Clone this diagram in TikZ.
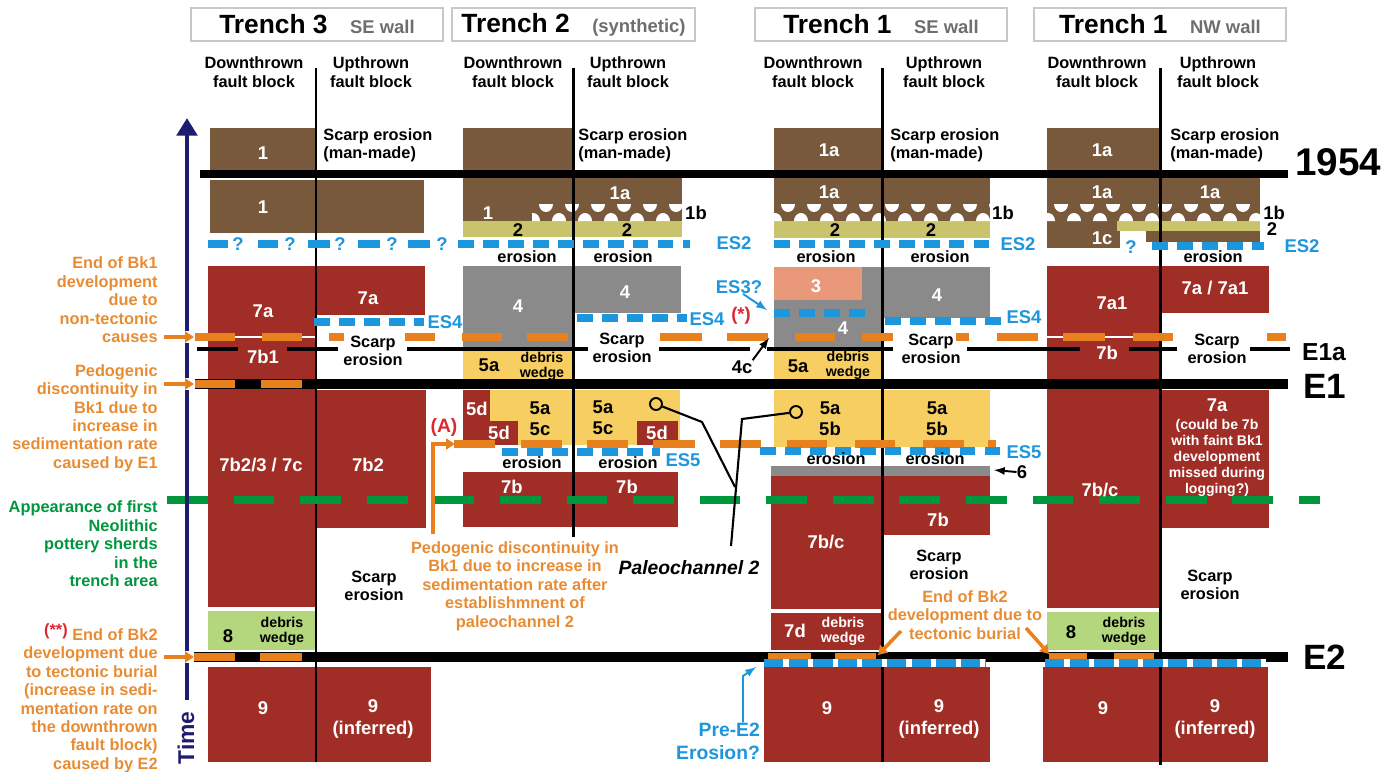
\documentclass[tikz,border=0pt]{standalone}
\usepackage{fontspec}
\setmainfont{Liberation Sans}
\usepackage{tikz}
\usetikzlibrary{arrows,arrows.meta,positioning,calc}

\definecolor{soilbrown}{RGB}{121,89,60}
\definecolor{soilred}{RGB}{160,46,38}
\definecolor{soilgray}{RGB}{138,138,138}
\definecolor{soilyellow}{RGB}{247,206,98}
\definecolor{soilolive}{RGB}{201,196,108}
\definecolor{soilgreen}{RGB}{180,214,124}
\definecolor{soilsalmon}{RGB}{233,152,122}
\definecolor{bkorange}{RGB}{232,128,30}
\definecolor{txtorange}{RGB}{232,140,52}
\definecolor{esblue}{RGB}{28,150,220}
\definecolor{neogreen}{RGB}{0,150,62}
\definecolor{timenavy}{RGB}{30,28,110}
\definecolor{notered}{RGB}{220,40,50}
\definecolor{hdline}{RGB}{200,200,200}
\definecolor{hdgray}{RGB}{110,110,110}

\newcommand{\trhead}[2]{{\fontsize{15}{17}\selectfont #1}\hspace{0.45cm}{\fontsize{10.5}{12}\selectfont\color{hdgray}#2}}

\begin{document}
\begin{tikzpicture}[x=0.02cm, y=-0.02cm,
    lbl/.style={font=\fontsize{9.3}{10.5}\selectfont\bfseries, align=center, inner sep=0pt},
    num/.style={font=\fontsize{10.5}{12}\selectfont\bfseries, text=white, align=center, inner sep=0pt},
    numk/.style={num, text=black},
    wedge/.style={font=\fontsize{8.1}{8.7}\selectfont\bfseries, align=center, inner sep=0pt},
    olbl/.style={lbl, text=txtorange},
    eslbl/.style={num, text=esblue},
    evlbl/.style={font=\fontsize{20}{22}\selectfont\bfseries, inner sep=0pt},
    hdr/.style={draw=hdline, line width=0.7pt, fill=white, font=\bfseries, minimum height=0.66cm, inner sep=0pt},
    evline/.style={line width=5.7pt},
    fault/.style={line width=1.7pt},
    bkdash/.style={draw=bkorange, line width=4pt},
    esdash/.style={draw=esblue, line width=4.2pt, dash pattern=on 9pt off 5.2pt},
    esseg/.style={draw=esblue, line width=4.2pt},
    neodash/.style={draw=neogreen, line width=4.5pt, dash pattern=on 23.2pt off 14.7pt},
    orarr/.style={draw=bkorange, line width=1.8pt, -{Triangle[length=5pt,width=6pt]}, preaction={draw=white, line width=7pt, arrows=-}},
    oline/.style={draw=bkorange, line width=1.8pt, -{Triangle[length=5pt,width=6pt]}},
    blkarr/.style={draw=black, line width=1.1pt, -latex},
    bluearr/.style={draw=esblue, line width=1.1pt, -latex},
    pline/.style={draw=black, line width=1.2pt},
    pcirc/.style={circle, draw, line width=1.1pt, minimum size=0.24cm, inner sep=0pt},
    timeax/.style={draw=timenavy, line width=2.8pt, -{Triangle[length=10pt,width=11.5pt]}}
]
\useasboundingbox (0,0) rectangle (1389,771);

% Trench headers
\node[hdr, minimum width=5.04cm] (hd3) at (317,24.5) {\trhead{Trench 3}{SE wall}};
\node[hdr, minimum width=4.86cm] (hd2) at (573.5,24.5) {\trhead{Trench 2}{(synthetic)}};
\node[hdr, minimum width=5.04cm] (hd1se) at (881,24.5) {\trhead{Trench 1}{SE wall}};
\node[hdr, minimum width=5.04cm] (hd1nw) at (1160,24.5) {\trhead{Trench 1}{NW wall}};

% Fault block headings
\foreach \x/\nm in {254/t3, 513/t2, 813/se, 1097/nw}
    \node[lbl] (down\nm) at (\x,72) {Downthrown\\fault block};
\foreach \x/\nm in {371/t3, 628/t2, 944/se, 1218/nw}
    \node[lbl] (up\nm) at (\x,72) {Upthrown\\fault block};

% Units, Trench 3
\fill[soilbrown] (210,128) rectangle (316,170);
\fill[soilbrown] (210,180) rectangle (424,233);
\fill[soilred] (208,266) rectangle (316,607);
\fill[soilgreen] (208,611) rectangle (316,650);
\fill[soilred] (208,667) rectangle (316,762);
\fill[soilred] (316,266) rectangle (425,315);
\fill[soilred] (316,390) rectangle (426,528);
\fill[soilred] (316,667) rectangle (431,762);

% Units, Trench 2
\fill[soilbrown] (463,128) rectangle (573,170);
\fill[soilbrown] (463,178) rectangle (682,221);
\fill[soilolive] (463,221) rectangle (682,237);
\fill[soilgray] (463,266) rectangle (573,349);
\fill[soilgray] (573,266) rectangle (681,313);
\fill[soilyellow] (463,349) rectangle (573,380);
\fill[soilyellow] (463,390) rectangle (680,445);
\fill[soilred] (463,390) rectangle (490,445);
\fill[soilred] (490,421) rectangle (518,445);
\fill[soilred] (637,421) rectangle (678,445);
\fill[soilred] (463,472) rectangle (678,527);

% Units, Trench 1 SE wall
\fill[soilbrown] (774,128) rectangle (882,170);
\fill[soilbrown] (774,178) rectangle (990,221);
\fill[soilolive] (774,221) rectangle (990,238);
\fill[soilgray] (774,267) rectangle (882,349);
\fill[soilsalmon] (774,267) rectangle (862,300);
\fill[soilgray] (882,267) rectangle (990,318);
\fill[soilyellow] (774,349) rectangle (882,380);
\fill[soilyellow] (774,390) rectangle (990,447);
\fill[soilgray] (771,466) rectangle (990,476);
\fill[soilred] (771,476) rectangle (882,609);
\fill[soilred] (771,613) rectangle (882,650);
\fill[soilred] (882,476) rectangle (990,535);
\fill[soilred] (764,667) rectangle (882,762);
\fill[soilred] (882,667) rectangle (990,762);

% Units, Trench 1 NW wall
\fill[soilbrown] (1047,128) rectangle (1160,170);
\fill[soilbrown] (1047,178) rectangle (1260,221);
\fill[soilbrown] (1047,221) rectangle (1120,248);
\fill[soilbrown] (1146,231) rectangle (1260,242);
\fill[soilolive] (1117,221) rectangle (1260,231);
\fill[soilred] (1047,266) rectangle (1160,608);
\fill[soilgreen] (1047,612) rectangle (1160,650);
\fill[soilred] (1043,667) rectangle (1160,762);
\fill[soilred] (1160,266) rectangle (1269,313);
\fill[soilred] (1160,390) rectangle (1269,528);
\fill[soilred] (1160,667) rectangle (1268,762);

% gravel of unit 1b
\foreach \xa/\xb in {532/682, 774/990, 1047/1260}{
    \begin{scope}
        \clip (\xa,203) rectangle (\xb,221);
        \foreach \k in {0,...,8}{
            \pgfmathsetmacro{\gx}{\xa+7+26*\k}
            \fill[white] (\gx,204) arc[start angle=180, end angle=0, x radius=7, y radius=8];
            \fill[white] (\gx-13,221) arc[start angle=180, end angle=360, x radius=7, y radius=8];
        }
    \end{scope}
}

% thin white line in Bk1
\draw[white, line width=1.2pt] (208,337) -- (316,337);
\draw[white, line width=1.2pt] (1047,337) -- (1160,337);

% Event horizons
\draw[evline, line width=5pt] (200,174) -- (1288,174);
\draw[evline, line width=6.2pt] (195,384) -- (1288,384);
\draw[evline] (193,657) -- (1288,657);
\foreach \a/\b in {197/238, 287/338, 407/588, 659/750, 767/893, 967/1080, 1129/1177, 1250/1290}
    \draw[line width=2.3pt] (\a,349) -- (\b,349);

% Faults
\foreach \x/\yb in {316/762, 573/537, 882/762, 1160/765}
    \draw[fault] (\x,68) -- (\x,\yb);

% Bk discontinuities (orange)
\foreach \a/\b in {195/235, 262/302, 329/344, 405/435, 462/502, 527/568, 660/702, 727/768, 795/835, 862/893, 956/969, 997/1038, 1063/1105, 1133/1173, 1267/1286}
    \draw[bkdash] (\a,337) -- (\b,337);
\foreach \a/\b in {195/235, 261/302}
    \draw[bkdash] (\a,384) -- (\b,384);
\foreach \a/\b in {454/495, 521/562, 587/628, 653/695, 720/761, 787/827, 855/895, 923/964, 988/996}
    \draw[bkdash] (\a,444) -- (\b,444);
\foreach \a/\b in {194/235, 260/302, 768/811, 835/876, 1049/1087, 1114/1154}
    \draw[bkdash] (\a,657) -- (\b,657);

% Erosion surfaces (blue)
\foreach \a/\b in {208/228, 258/278, 308/330, 358/380, 408/430}
    \draw[esseg] (\a,244) -- (\b,244);
\foreach \x in {238, 290, 340, 392, 442}
    \node[eslbl] (q\x) at (\x,244) {?};
\draw[esdash] (458,244) -- (690,244);
\draw[esdash] (774,244) -- (994,244);
\draw[esdash] (1152,246) -- (1264,246);
\node[eslbl] (qnw) at (1131,247) {?};
\draw[esdash] (314,322) -- (424,322);
\draw[esdash] (577,318) -- (687,318);
\draw[esdash] (885,321) -- (1002,321);
\draw[esdash] (774,313) -- (866,313);
\draw[esdash] (502,452) -- (660,452);
\draw[esdash] (760,451) -- (1000,451);
\draw[white, line width=4.2pt] (764,663) -- (986,663);
\draw[white, line width=4.2pt] (1045,663) -- (1266,663);
\draw[esblue, line width=4.2pt, dash pattern=on 11pt off 3pt] (764,663) -- (986,663);
\draw[esblue, line width=4.2pt, dash pattern=on 11pt off 3pt] (1045,663) -- (1266,663);

% Neolithic pottery (green)
\draw[neodash] (167,500) -- (1320,500);

% Time axis
\coordinate (tbot) at (187,700);
\coordinate (ttop) at (187,118);
\draw[timeax] (tbot) -- (ttop);
\node[font=\fontsize{13}{15}\selectfont\bfseries, text=timenavy, rotate=90, inner sep=0pt] (tlbl) at (186,738) {Time};

% Event labels
\node[font=\fontsize{22}{24}\selectfont\bfseries, inner sep=0pt] (ev1954) at (1338,162) {1954};
\node[evlbl] (evE1) at (1325,386) {E1};
\node[font=\fontsize{14}{16}\selectfont\bfseries, inner sep=0pt] (evE1a) at (1324,352) {E1a};
\node[evlbl] (evE2) at (1325,657) {E2};

% Scarp erosion labels
\foreach \x/\nm in {323/t3, 578/t2, 890/se, 1170/nw}
    \node[lbl, align=left, anchor=west] (mm\nm) at (\x,145) {Scarp erosion\\(man-made)};
\node[lbl] (sc3a) at (373,351) {Scarp\\erosion};
\node[lbl] (sc3b) at (374,586) {Scarp\\erosion};
\node[lbl] (sc2a) at (622,348) {Scarp\\erosion};
\node[lbl] (sc1a) at (931,349) {Scarp\\erosion};
\node[lbl] (sc1b) at (939,565) {Scarp\\erosion};
\node[lbl] (scnwa) at (1217,349) {Scarp\\erosion};
\node[lbl] (scnwb) at (1210,585) {Scarp\\erosion};
\foreach \x/\y/\nm in {527/257/a, 623/257/b, 826/257/c, 940/257/d, 1213/257/e, 532/463/f, 628/463/g, 836/459/h, 935/459/i}
    \node[lbl] (er\nm) at (\x,\y) {erosion};

% Unit labels, Trench 3
\node[num] (u3a) at (263,153) {1};
\node[num] (u3b) at (263,207) {1};
\node[num] (u3c) at (263,311) {7a};
\node[num] (u3d) at (368,298) {7a};
\node[num] (u3e) at (263,357) {7b1};
\node[num] (u3f) at (261,465) {7b2/3 / 7c};
\node[num] (u3g) at (368,465) {7b2};
\node[numk] (u3h) at (228,636) {8};
\node[wedge] (w3) at (282,631) {debris\\wedge};
\node[num] (u3i) at (263,708) {9};
\node[num] (u3j) at (373,719) {9\\(inferred)};

% Unit labels, Trench 2
\node[num] (u2a) at (488,213) {1};
\node[num] (u2b) at (620,193) {1a};
\node[numk] (u2c) at (696,213) {1b};
\node[numk] (u2d) at (518,230) {2};
\node[numk] (u2e) at (627,230) {2};
\node[num] (u2f) at (518,306) {4};
\node[num] (u2g) at (625,292) {4};
\node[numk] (u2h) at (489,365) {5a};
\node[wedge] (w2) at (542,366) {debris\\wedge};
\node[num] (u2i) at (477,409) {5d};
\node[num] (u2j) at (499,433) {5d};
\node[numk] (u2k) at (540,419) {5a\\5c};
\node[numk] (u2l) at (603,418) {5a\\5c};
\node[num] (u2m) at (657,433) {5d};
\node[num] (u2n) at (512,487) {7b};
\node[num] (u2o) at (627,487) {7b};

% Unit labels, Trench 1 SE wall
\node[num] (u1a) at (829,150) {1a};
\node[num] (u1b) at (829,192) {1a};
\node[numk] (u1c) at (1003,213) {1b};
\node[numk] (u1d) at (835,230) {2};
\node[numk] (u1e) at (931,230) {2};
\node[num] (u1f) at (816,286) {3};
\node[num] (u1g) at (937,295) {4};
\node[num] (u1h) at (843,328) {4};
\node[numk] (u1i) at (798,366) {5a};
\node[wedge] (w1a) at (848,365) {debris\\wedge};
\node[numk] (u1j) at (830,419) {5a\\5b};
\node[numk] (u1k) at (937,419) {5a\\5b};
\node[num] (u1l) at (826,542) {7b/c};
\node[num] (u1m) at (938,520) {7b};
\node[num] (u1n) at (795,631) {7d};
\node[wedge, text=white] (w1b) at (843,631) {debris\\wedge};
\node[num] (u1o) at (827,708) {9};
\node[num] (u1p) at (939,719) {9\\(inferred)};

% Unit labels, Trench 1 NW wall
\node[num] (una) at (1102,150) {1a};
\node[num] (unb) at (1102,192) {1a};
\node[num] (unc) at (1210,192) {1a};
\node[numk] (und) at (1274,213) {1b};
\node[numk] (une) at (1272,229) {2};
\node[num] (unf) at (1102,238) {1c};
\node[num] (ung) at (1112,303) {7a1};
\node[num] (unh) at (1215,288) {7a / 7a1};
\node[num] (uni) at (1107,353) {7b};
\node[num] (unj) at (1100,490) {7b/c};
\node[num] (unk) at (1217,405) {7a};
\node[font=\fontsize{8}{9}\selectfont\bfseries, text=white, align=center, inner sep=0pt] (unl) at (1217,458) {(could be 7b\\with faint Bk1\\development\\missed during\\logging?)};
\node[numk] (unm) at (1071,632) {8};
\node[wedge] (wn) at (1124,631) {debris\\wedge};
\node[num] (unn) at (1103,708) {9};
\node[num] (uno) at (1215,719) {9\\(inferred)};

% Erosion surface labels
\node[eslbl] (es2a) at (734,243) {ES2};
\node[eslbl] (es2b) at (1018,244) {ES2};
\node[eslbl] (es2c) at (1302,246) {ES2};
\node[eslbl] (es4a) at (445,322) {ES4};
\node[eslbl] (es4b) at (707,319) {ES4};
\node[num, text=notered] (star) at (741,316) {(*)};
\node[eslbl] (es4c) at (1024,317) {ES4};
\node[eslbl] (es3) at (739,287) {ES3?};
\node[eslbl] (es5a) at (683,460) {ES5};
\node[eslbl] (es5b) at (1024,452) {ES5};

% Pointers inside the trenches
\coordinate (tip3) at (767,310);
\draw[bluearr] ([xshift=0.08cm]es3.south) -- (tip3);
\node[numk] (n4c) at (742,367) {4c};
\coordinate (tip4c) at (769,338);
\draw[blkarr] (n4c.north east) -- (tip4c);
\node[numk] (n6) at (1022,472) {6};
\coordinate (tip6) at (994,470);
\draw[blkarr] (n6.west) -- (tip6);

% Paleochannel 2
\node[pcirc] (pc2) at (656,404) {};
\node[pcirc] (pc1) at (796,412) {};
\node[font=\fontsize{11}{13}\selectfont\bfseries\itshape, inner sep=0pt] (pal) at (689,568) {Paleochannel 2};
\coordinate (pb1) at (702,422);
\coordinate (pb2) at (742,419);
\coordinate (pj) at (735,487);
\coordinate (pend) at (731,546);
\draw[pline] (pc1) -- (pb2) -- (pend);
\draw[pline] (pc2) -- (pb1) -- (pj);

% (A) and its note
\node[num, font=\fontsize{11}{13}\selectfont\bfseries, text=notered] (alabel) at (444,427) {(A)};
\node[olbl] (ped2) at (515,586) {Pedogenic discontinuity in\\Bk1 due to increase in\\sedimentation rate after\\establishmnent of\\paleochannel 2};
\coordinate (aturn) at (433,444);
\coordinate (atip) at (455,444);
\draw[oline] ([yshift=0.14cm]ped2.north -| aturn) -- (aturn) -- (atip);

% End of Bk2 note in Trench 1
\node[olbl] (bk2t1) at (965,615) {End of Bk2\\development due to\\tectonic burial};
\coordinate (bk2s1) at (901,631);
\coordinate (bk2e1) at (878,655);
\coordinate (bk2s2) at (1026,628);
\coordinate (bk2e2) at (1049,654);
\draw[oline, line width=2pt] (bk2s1) -- (bk2e1);
\draw[oline, line width=2pt] (bk2s2) -- (bk2e2);

% Pre-E2 erosion
\node[eslbl, font=\fontsize{11}{13}\selectfont\bfseries, align=right] (pre) at (718,741) {Pre-E2\\Erosion?};
\coordinate (prebend) at (743,676);
\coordinate (pretip) at (756,667);
\draw[bluearr] (pre.north -| prebend) -- (prebend) -- (pretip);

% Left-hand notes
\node[olbl, align=right, anchor=east] (bk1end) at (158,300) {End of Bk1\\development\\due to\\non-tectonic\\causes};
\node[olbl, align=right, anchor=east] (bk1ped) at (158,418) {Pedogenic\\discontinuity in\\Bk1 due to\\increase in\\sedimentation rate\\caused by E1};
\node[lbl, text=neogreen, align=right, anchor=east] (neo) at (158,544) {Appearance of first\\Neolithic\\pottery sherds\\in the\\trench area};
\node[olbl, align=right, anchor=east] (bk2end) at (158,698) {\raisebox{3pt}{\textcolor{notered}{(**)}}\ End of Bk2\\development due\\to tectonic burial\\(increase in sedi-\\mentation rate on\\the downthrown\\fault block)\\caused by E2};
\coordinate (tipbk1) at (194,337);
\coordinate (tipped) at (194,384);
\coordinate (tipbk2) at (194,657);
\draw[orarr, shorten <=0.12cm] (bk1end.east |- tipbk1) -- (tipbk1);
\draw[orarr, shorten <=0.12cm] (bk1ped.east |- tipped) -- (tipped);
\draw[orarr, shorten <=0.12cm] (bk2end.east |- tipbk2) -- (tipbk2);

\end{tikzpicture}
\end{document}
